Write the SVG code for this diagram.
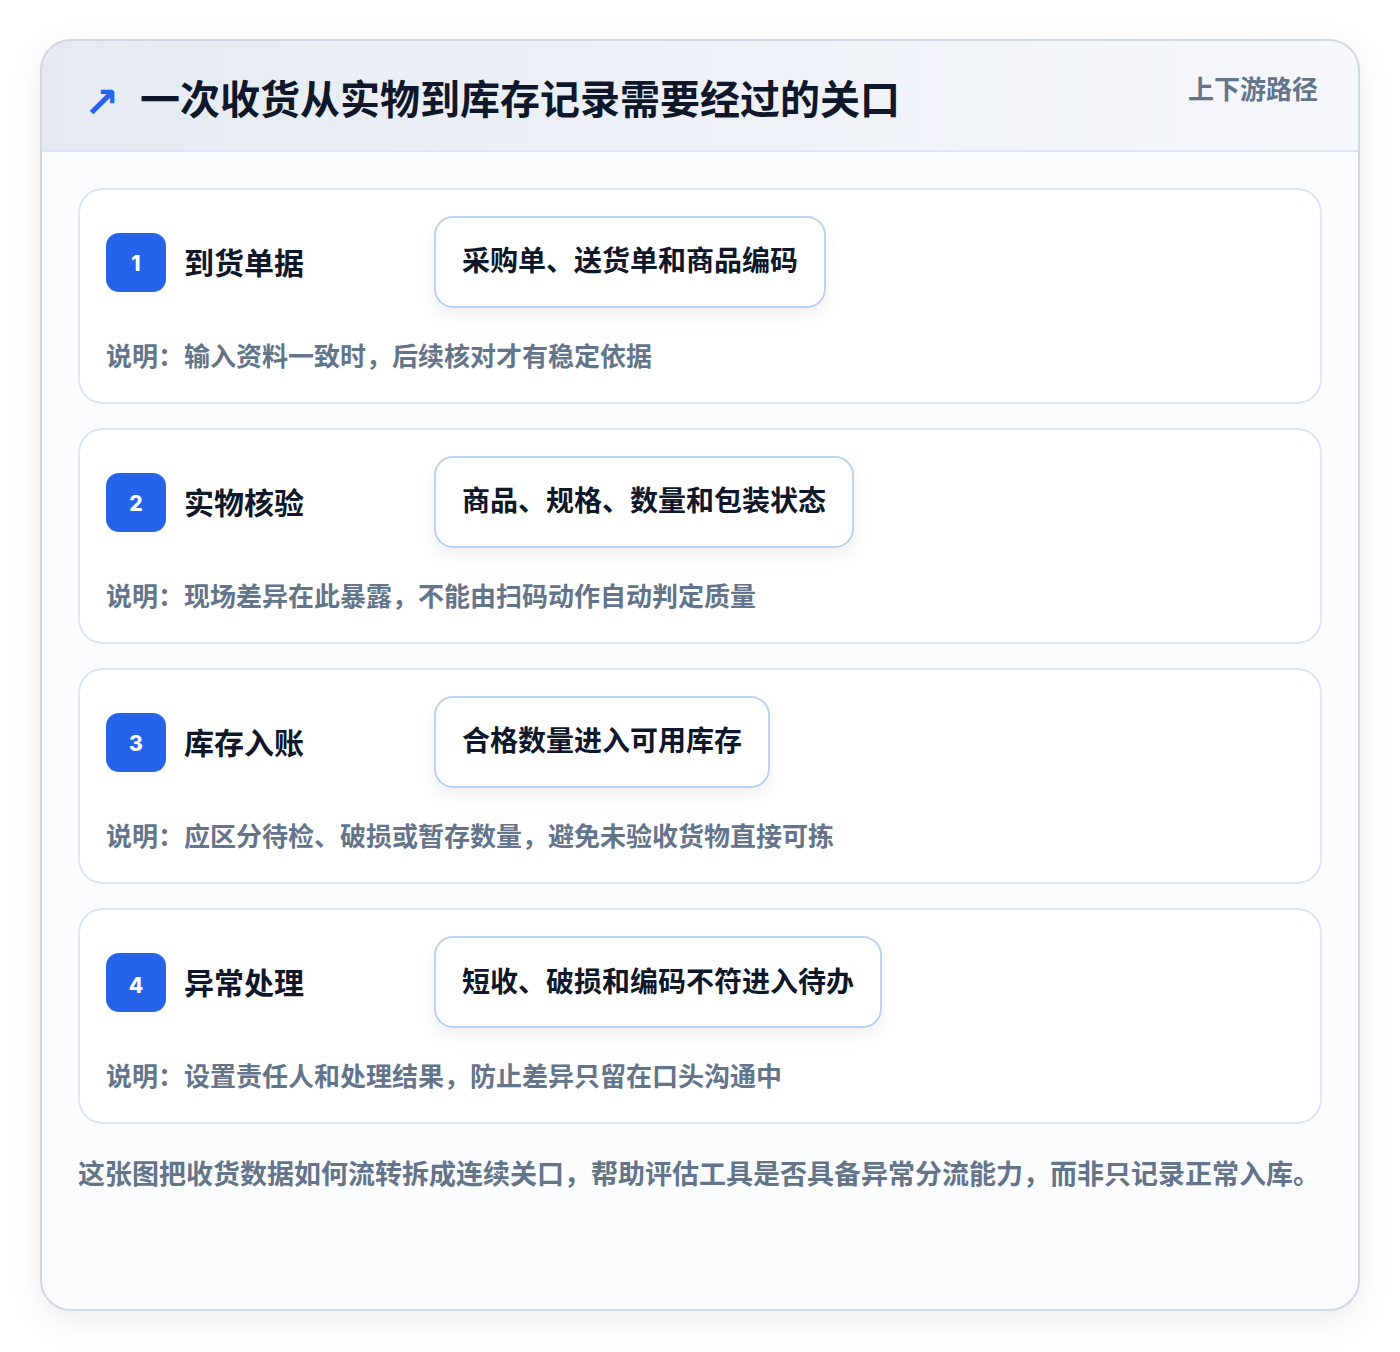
<svg xmlns="http://www.w3.org/2000/svg" width="1400" height="1352" viewBox="0 0 1400 1352">
<defs>
<linearGradient id="hdr" x1="0" y1="0" x2="1" y2="0">
<stop offset="0" stop-color="#e5eaf2"/>
<stop offset="1" stop-color="#f5f7fb"/>
</linearGradient>
<filter id="outerShadow" x="-10%" y="-10%" width="120%" height="120%">
<feDropShadow dx="0" dy="10" stdDeviation="16" flood-color="#0f172a" flood-opacity="0.08"/>
</filter>
<filter id="pillShadow" x="-10%" y="-20%" width="120%" height="160%">
<feDropShadow dx="0" dy="8" stdDeviation="8" flood-color="#0f172a" flood-opacity="0.06"/>
</filter>
<clipPath id="cardClip"><rect x="41" y="40" width="1318" height="1270" rx="30"/></clipPath>
</defs>
<style>
text{font-family:"Noto Sans CJK SC","Noto Sans",sans-serif;font-weight:700}
.title{font-size:40px;fill:#0f172a}
.tag{font-size:26px;fill:#64748b}
.card{fill:#ffffff;stroke:#dbe7f6;stroke-width:2}
.badge{fill:#2563eb}
.num{font-size:21px;fill:#ffffff;font-family:"Inter","Noto Sans",sans-serif;font-weight:800}
.stitle{font-size:30px;fill:#0f172a}
.pill{fill:#ffffff;stroke:#bcd4f3;stroke-width:2}
.ptext{font-size:28px;fill:#0f172a}
.desc{font-size:26px;fill:#64748b}
.foot{font-size:27px;fill:#64748b}
.icon{font-size:42px;fill:#2563eb;font-family:"DejaVu Sans",sans-serif;font-weight:700}
</style>
<rect width="1400" height="1352" fill="#ffffff"/>
<g id="frame">
<rect x="41" y="40" width="1318" height="1270" rx="30" fill="#fbfcfe" filter="url(#outerShadow)"/>
<g clip-path="url(#cardClip)">
<rect x="41" y="40" width="1318" height="111" fill="url(#hdr)"/>
</g>
<line x1="42" y1="151" x2="1358" y2="151" stroke="#dbe7f6" stroke-width="2"/>
<rect x="41" y="40" width="1318" height="1270" rx="30" fill="none" stroke="#cfd8e4" stroke-width="2"/>
</g>
<g id="header">
<text class="icon" x="84" y="117">↗</text>
<text class="title" x="140" y="114">一次收货从实物到库存记录需要经过的关口</text>
<text class="tag" x="1318" y="99" text-anchor="end">上下游路径</text>
</g>
<g id="connectors"></g>
<g id="step1">
<rect class="card" x="79" y="189" width="1242" height="214" rx="24"/>
<rect class="badge" x="106" y="233" width="60" height="59" rx="13"/>
<text class="num" x="136" y="270.5" text-anchor="middle">1</text>
<text class="stitle" x="184" y="274">到货单据</text>
<rect class="pill" x="435" y="217" width="390" height="90" rx="18" filter="url(#pillShadow)"/>
<text class="ptext" x="462" y="271">采购单、送货单和商品编码</text>
<text class="desc" x="106" y="366">说明：输入资料一致时，后续核对才有稳定依据</text>
</g>
<g id="step2">
<rect class="card" x="79" y="429" width="1242" height="214" rx="24"/>
<rect class="badge" x="106" y="473" width="60" height="59" rx="13"/>
<text class="num" x="136" y="510.5" text-anchor="middle">2</text>
<text class="stitle" x="184" y="514">实物核验</text>
<rect class="pill" x="435" y="457" width="418" height="90" rx="18" filter="url(#pillShadow)"/>
<text class="ptext" x="462" y="511">商品、规格、数量和包装状态</text>
<text class="desc" x="106" y="606">说明：现场差异在此暴露，不能由扫码动作自动判定质量</text>
</g>
<g id="step3">
<rect class="card" x="79" y="669" width="1242" height="214" rx="24"/>
<rect class="badge" x="106" y="713" width="60" height="59" rx="13"/>
<text class="num" x="136" y="750.5" text-anchor="middle">3</text>
<text class="stitle" x="184" y="754">库存入账</text>
<rect class="pill" x="435" y="697" width="334" height="90" rx="18" filter="url(#pillShadow)"/>
<text class="ptext" x="462" y="751">合格数量进入可用库存</text>
<text class="desc" x="106" y="846">说明：应区分待检、破损或暂存数量，避免未验收货物直接可拣</text>
</g>
<g id="step4">
<rect class="card" x="79" y="909" width="1242" height="214" rx="24"/>
<rect class="badge" x="106" y="953" width="60" height="59" rx="13"/>
<text class="num" x="136" y="992.5" text-anchor="middle">4</text>
<text class="stitle" x="184" y="994">异常处理</text>
<rect class="pill" x="435" y="937" width="446" height="90" rx="18" filter="url(#pillShadow)"/>
<text class="ptext" x="462" y="992">短收、破损和编码不符进入待办</text>
<text class="desc" x="106" y="1086">说明：设置责任人和处理结果，防止差异只留在口头沟通中</text>
</g>
<g id="footer">
<text class="foot" x="78" y="1184">这张图把收货数据如何流转拆成连续关口，帮助评估工具是否具备异常分流能力，而非只记录正常入库。</text>
</g>
</svg>
